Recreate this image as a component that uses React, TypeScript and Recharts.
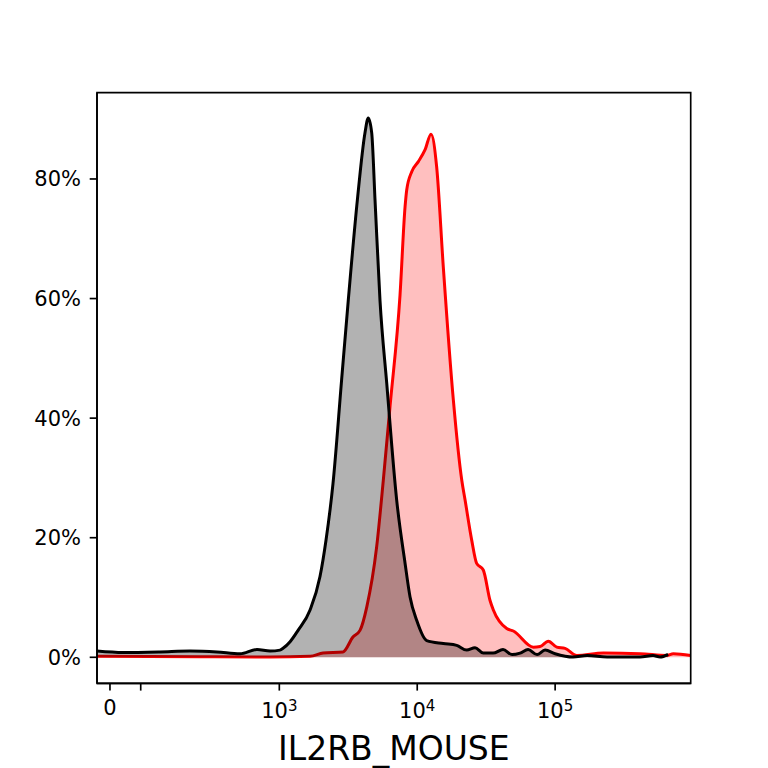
import React from "react";
import { ComposedChart, Area, XAxis, YAxis, ReferenceArea } from "recharts";

// x positions are log10 of the channel intensity (display scale of the axis)
const blackX = [
  1.678, 1.867, 2.135, 2.352, 2.548, 2.715, 2.838, 2.933, 3.005, 3.027, 3.078, 3.136,
  3.223, 3.295, 3.338, 3.389, 3.452, 3.5, 3.566, 3.621, 3.645, 3.67, 3.694, 3.73,
  3.779, 3.851, 3.912, 3.948, 3.996, 4.069, 4.189, 4.286, 4.359, 4.419, 4.479, 4.55,
  4.622, 4.688, 4.746, 4.804, 4.869, 4.927, 5.0, 5.13, 5.232, 5.377, 5.616, 5.71,
  5.761, 5.819,
];
const blackY = [
  1.05, 0.8, 0.9, 1.05, 0.9, 0.6, 1.3, 1.05, 1.2, 1.5, 2.6, 4.5,
  7.9, 13.5, 19.5, 29, 46.5, 59.7, 76.5, 87.7, 90.2, 87.7, 76.5, 59.7,
  45.8, 26.3, 15.7, 10.1, 6.2, 2.8, 2.3, 2.0, 1.2, 1.6, 0.7, 0.7,
  1.3, 0.45, 0.7, 1.3, 0.45, 1.2, 0.6, 0.05, 0.3, 0.05, 0.05, 0.3,
  0.05, 0.5,
];

const redX = [
  1.678, 2.425, 2.933, 3.223, 3.317, 3.462, 3.534, 3.585, 3.634, 3.706, 3.754, 3.803,
  3.875, 3.912, 3.924, 3.96, 4.008, 4.057, 4.1, 4.141, 4.189, 4.262, 4.323, 4.347,
  4.395, 4.431, 4.479, 4.528, 4.552, 4.649, 4.697, 4.842, 4.891, 4.951, 5.012, 5.072,
  5.157, 5.35, 5.616, 5.809, 5.857, 5.983,
];
const redY = [
  0.17, 0.1, 0.05, 0.17, 0.7, 0.9, 3.4, 4.5, 8.4, 18.5, 29.6, 42,
  60.5, 75.4, 78.2, 81.2, 82.9, 84.9, 87.5, 82, 65.3, 43, 29.6, 26.3,
  19.6, 15.7, 14.6, 9.5, 7.9, 4.8, 4.4, 1.7, 1.8, 2.7, 1.7, 1.5,
  0.3, 0.7, 0.6, 0.3, 0.6, 0.3,
];

const xTicks = [1.772, 1.995, 3, 4, 5];
const xTickLabels = ["0", "", "3", "4", "5"];
const yTicks = [0, 20, 40, 60, 80];

const xDomain: [number, number] = [1.678, 5.983];
const yDomain: [number, number] = [-4.35, 94.43];

const data = [
  ...blackX.map((x, i) => ({ x, black: blackY[i] })),
  ...redX.map((x, i) => ({ x, red: redY[i] })),
].sort((a, b) => a.x - b.x);

const font = "DejaVu Sans";

const XTick = (props: any) => {
  const { x, y, payload } = props;
  const idx = xTicks.indexOf(payload.value);
  const label = xTickLabels[idx];
  if (!label) return null;
  if (label === "0") {
    return (
      <text x={x} y={y + 24.4} textAnchor="middle" fontSize={21} fontFamily={font} fill="#000">
        0
      </text>
    );
  }
  return (
    <text x={x} y={y + 27.7} textAnchor="middle" fontSize={21} fontFamily={font} fill="#000">
      10
      <tspan fontSize={15} dy={-7.8}>
        {label}
      </tspan>
    </text>
  );
};

export default function App() {
  return (
    <div style={{ position: "absolute", left: 0, top: 0, width: 768, height: 768, background: "#fff" }}>
      <ComposedChart
        width={768}
        height={768}
        data={data}
        margin={{ top: 92.7, right: 77.3, bottom: 0, left: 0 }}
      >
        <XAxis
          type="number"
          dataKey="x"
          domain={xDomain}
          allowDataOverflow
          ticks={xTicks}
          interval={0}
          height={84.7}
          tickSize={7.3}
          tickMargin={0}
          tick={<XTick />}
          axisLine={{ stroke: "#000", strokeWidth: 1.67 }}
          tickLine={{ stroke: "#000", strokeWidth: 1.67 }}
          label={{
            value: "IL2RB_MOUSE",
            position: "insideBottom",
            offset: 8,
            fontSize: 33,
            fontFamily: font,
            fill: "#000",
          }}
        />
        <YAxis
          type="number"
          domain={yDomain}
          allowDataOverflow
          ticks={yTicks}
          interval={0}
          width={97}
          tickSize={7.3}
          tickMargin={8.7}
          tickFormatter={(v: number) => `${v}%`}
          tick={{ fontSize: 21, fontFamily: font, fill: "#000" }}
          axisLine={{ stroke: "#000", strokeWidth: 1.67 }}
          tickLine={{ stroke: "#000", strokeWidth: 1.67 }}
        />
        <Area
          type="monotone"
          dataKey="red"
          stroke="#ff0000"
          strokeWidth={3}
          fill="#ff0000"
          fillOpacity={0.25}
          baseValue={0}
          connectNulls
          dot={false}
          activeDot={false}
          isAnimationActive={false}
        />
        <Area
          type="monotone"
          dataKey="black"
          stroke="#000"
          strokeWidth={3}
          fill="#000"
          fillOpacity={0.3}
          baseValue={0}
          connectNulls
          dot={false}
          activeDot={false}
          isAnimationActive={false}
        />
        <ReferenceArea
          x1={xDomain[0]}
          x2={xDomain[1]}
          y1={yDomain[0]}
          y2={yDomain[1]}
          fill="none"
          stroke="#000"
          strokeWidth={1.67}
          ifOverflow="visible"
        />
      </ComposedChart>
    </div>
  );
}
